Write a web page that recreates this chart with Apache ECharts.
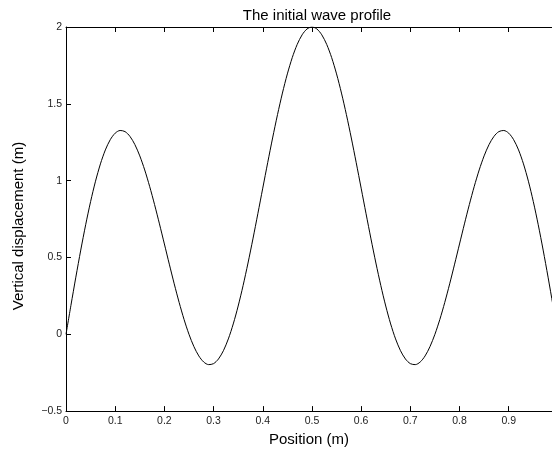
<!DOCTYPE html>
<html>
<head>
<meta charset="utf-8">
<script src="https://cdn.jsdelivr.net/npm/echarts@6/dist/echarts.min.js"></script>
<style>
html,body{margin:0;padding:0;background:#fff;}
#chart{width:552px;height:452px;}
</style>
</head>
<body>
<div id="chart"></div>
<script>
var positions = [
0.00,0.01,0.02,0.03,0.04,0.05,0.06,0.07,0.08,0.09,
0.10,0.11,0.12,0.13,0.14,0.15,0.16,0.17,0.18,0.19,
0.20,0.21,0.22,0.23,0.24,0.25,0.26,0.27,0.28,0.29,
0.30,0.31,0.32,0.33,0.34,0.35,0.36,0.37,0.38,0.39,
0.40,0.41,0.42,0.43,0.44,0.45,0.46,0.47,0.48,0.49,
0.50,0.51,0.52,0.53,0.54,0.55,0.56,0.57,0.58,0.59,
0.60,0.61,0.62,0.63,0.64,0.65,0.66,0.67,0.68,0.69,
0.70,0.71,0.72,0.73,0.74,0.75,0.76,0.77,0.78,0.79,
0.80,0.81,0.82,0.83,0.84,0.85,0.86,0.87,0.88,0.89,
0.90,0.91,0.92,0.93,0.94,0.95,0.96,0.97,0.98,0.99,
1.00
];
var displacement = [
0,0.1878,0.3718,0.5481,0.7131,0.8635,0.9964,1.1091,1.1998,1.2667,
1.3090,1.3264,1.3192,1.2881,1.2348,1.1611,1.0696,0.9630,0.8448,0.7185,
0.5878,0.4565,0.3284,0.2073,0.0967,0,-0.0800,-0.1409,-0.1806,-0.1975,
-0.1910,-0.1606,-0.1068,-0.0303,0.0673,0.1839,0.3170,0.4638,0.6208,0.7845,
0.9511,1.1167,1.2776,1.4299,1.5701,1.6948,1.8011,1.8866,1.9491,1.9872,
2.0000,1.9872,1.9491,1.8866,1.8011,1.6948,1.5701,1.4299,1.2776,1.1167,
0.9511,0.7845,0.6208,0.4638,0.3170,0.1839,0.0673,-0.0303,-0.1068,-0.1606,
-0.1910,-0.1975,-0.1806,-0.1409,-0.0800,0,0.0967,0.2073,0.3284,0.4565,
0.5878,0.7185,0.8448,0.9630,1.0696,1.1611,1.2348,1.2881,1.3192,1.3264,
1.3090,1.2667,1.1998,1.1091,0.9964,0.8635,0.7131,0.5481,0.3718,0.1878,
0
];
var xTickLabels = {"0":"0","0.1":"0.1","0.2":"0.2","0.3":"0.3","0.4":"0.4","0.5":"0.5","0.6":"0.6","0.7":"0.7","0.8":"0.8","0.9":"0.9"};
var yTickLabels = {"-0.5":"\u22120.5","0":"0","0.5":"0.5","1":"1","1.5":"1.5","2":"2"};

var data = positions.map(function(x, i){ return [x, displacement[i]]; });
var font = 'Liberation Sans, Arial, Helvetica, sans-serif';
var chart = echarts.init(document.getElementById('chart'), null, {renderer:'canvas'});
function lbl(map){ return function(v){ var k = String(Math.round(v*1000)/1000); return map.hasOwnProperty(k) ? map[k] : ''; }; }
var X_MAX = 0.988;
chart.setOption({
  animation:false,
  backgroundColor:'#fff',
  title:{text:'The initial wave profile', left:312, top:3, textAlign:'center',
    textStyle:{fontFamily:font, fontSize:15, fontWeight:'normal', color:'#000'}},
  grid:{left:66, right:0, top:27, bottom:38, containLabel:false},
  xAxis:[{
    type:'value', min:0, max:X_MAX, interval:0.1, position:'bottom',
    name:'Position (m)', nameLocation:'middle', nameGap:20,
    nameTextStyle:{fontFamily:font, fontSize:15, color:'#000'},
    axisLine:{show:true, onZero:false, lineStyle:{color:'#000', width:1}},
    axisTick:{show:true, inside:true, length:5, lineStyle:{color:'#000'}},
    axisLabel:{fontFamily:font, fontSize:10.5, color:'#222', margin:5, formatter:lbl(xTickLabels), showMaxLabel:false},
    splitLine:{show:false}
  },{
    type:'value', min:0, max:X_MAX, interval:0.1, position:'top',
    axisLine:{show:true, onZero:false, lineStyle:{color:'#000', width:1}},
    axisTick:{show:true, inside:true, length:5, lineStyle:{color:'#000'}},
    axisLabel:{show:false}, splitLine:{show:false}
  }],
  yAxis:[{
    type:'value', min:-0.5, max:2, interval:0.5,
    name:'Vertical displacement (m)', nameLocation:'middle', nameGap:40, nameRotate:90,
    nameTextStyle:{fontFamily:font, fontSize:15, color:'#000', padding:[0,14,0,0]},
    axisLine:{show:true, onZero:false, lineStyle:{color:'#000', width:1}},
    axisTick:{show:true, inside:true, length:5, lineStyle:{color:'#000'}},
    axisLabel:{fontFamily:font, fontSize:10.5, color:'#222', margin:4, formatter:lbl(yTickLabels)},
    splitLine:{show:false}
  }],
  series:[{
    type:'line', data:data, xAxisIndex:0, yAxisIndex:0,
    showSymbol:false, smooth:0.3, clip:true,
    lineStyle:{color:'#000', width:1}
  }]
});
</script>
</body>
</html>
